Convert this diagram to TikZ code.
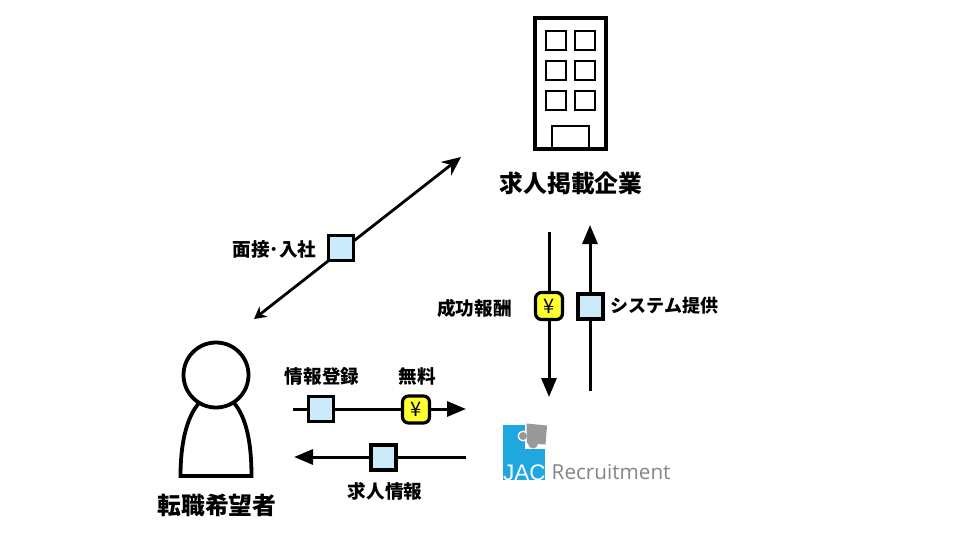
\documentclass[tikz,border=0pt]{standalone}
\usepackage{fontspec}
\setmainfont{Noto Sans CJK JP}
\newfontfamily\logofont{Open Sans}
\newfontfamily\jacfont{Liberation Sans}
\usetikzlibrary{arrows.meta}
\tikzset{
  flow/.style={draw=black,line width=3pt,-{Triangle[length=19pt,width=15pt]}},
  bluebox/.style={draw=black,line width=3.2pt,fill=boxblue,minimum size=25pt,inner sep=0pt},
  yenbox/.style={draw=black,line width=3.2pt,fill=boxyellow,minimum size=27pt,inner sep=0pt,rounded corners=6pt,font=\fontsize{20}{20}\selectfont},
  lab/.style={font=\bfseries\fontsize{18.6}{19}\selectfont,inner sep=0pt},
  title/.style={font=\bfseries\fontsize{23.8}{24}\selectfont,inner sep=0pt},
  bldg/.style={draw=black,line width=2pt},
}
\definecolor{boxblue}{HTML}{CCEBFA}
\definecolor{boxyellow}{HTML}{FFFF33}
\definecolor{jacblue}{HTML}{1FA8DF}
\definecolor{jacgray}{HTML}{858585}
\definecolor{piecegray}{HTML}{999999}
\begin{document}
\begin{tikzpicture}[x=1pt,y=-1pt]
\useasboundingbox (0,0) rectangle (960,540);
% building
\draw[draw=black,line width=4pt] (535,18.5) rectangle (606,149.5);
\foreach \xx in {546,575}{\foreach \yy in {31,61,91}{
  \draw[bldg] (\xx,\yy) rectangle ++(19.5,19.5);}}
\draw[bldg] (552,126) rectangle (589,149);
\node[title] (company) at (571,183) {求人掲載企業};
% person
\draw[draw=black,line width=3.8pt,line join=miter] (199,403) .. controls (186,418) and (180.5,445) .. (180.5,476) -- (251.5,476) .. controls (251.5,445) and (247,418) .. (234,403);
\node[draw=black,line width=3.8pt,circle,minimum size=65pt,inner sep=0pt,fill=white] (personhead) at (216,375) {};
\node[title] (seeker) at (217,505) {転職希望者};
% connector ends
\coordinate (d1) at (254,319);
\coordinate (d2) at (461,157);
\coordinate (s1) at (549,232);
\coordinate (s2) at (549,397);
\coordinate (u1) at (590,391);
\coordinate (u2) at (590,225);
\coordinate (t1) at (293,409);
\coordinate (t2) at (466,409);
\coordinate (b1) at (466,457);
\coordinate (b2) at (294,457);
\draw[draw=black,line width=2.8pt,{Stealth[length=12pt,width=13pt]}-{Stealth[length=19pt,width=17pt]}] (d1) -- (d2);
\draw[flow] (s1) -- (s2);
\draw[flow] (u1) -- (u2);
\draw[flow] (t1) -- (t2);
\draw[flow] (b1) -- (b2);
% boxes
\node[bluebox] (bInterview) at (341,248) {};
\node[yenbox] (yFee) at (549,306) {¥};
\node[bluebox] (bSystem) at (590.5,306.5) {};
\node[bluebox] (bRegister) at (321,409) {};
\node[yenbox] (yFree) at (416,409.5) {¥};
\node[bluebox] (bInfo) at (383.5,457.5) {};
% labels
\node[lab] (lInterview) at (274.5,249.5) {面接･入社};
\node[lab] (lFee) at (474.5,308) {成功報酬};
\node[lab,font=\bfseries\fontsize{18}{18}\selectfont] (lSystem) at (664.5,306) {システム提供};
\node[lab] (lRegister) at (322,376) {情報登録};
\node[lab] (lFree) at (417.5,376) {無料};
\node[lab] (lInfo) at (385,491) {求人情報};
% logo
\fill[jacblue] (502.5,425) rectangle (544.5,480);
\fill[white] (525,423) rectangle (548,448.5);
\fill[white] (523,436) circle (5.5);
\fill[piecegray] (526.5,423.5) -- (547,425.5) -- (545.5,444.5) -- (538,444) -- (527,443) -- cycle;
\fill[piecegray] (533,443.5) circle (5);
\fill[piecegray] (523,436) circle (4);
\begin{scope}
\clip (500,460) rectangle (546,480);
\node[font=\jacfont\fontsize{22.5}{22}\selectfont,text=white,inner sep=0pt,anchor=base west] (jac) at (503,480.5) {JAC};
\end{scope}
\node[font=\logofont\fontsize{20.7}{21}\selectfont,text=jacgray,inner sep=0pt,anchor=base west] (recruit) at (551.5,479) {Recruitment};
\end{tikzpicture}
\end{document}
